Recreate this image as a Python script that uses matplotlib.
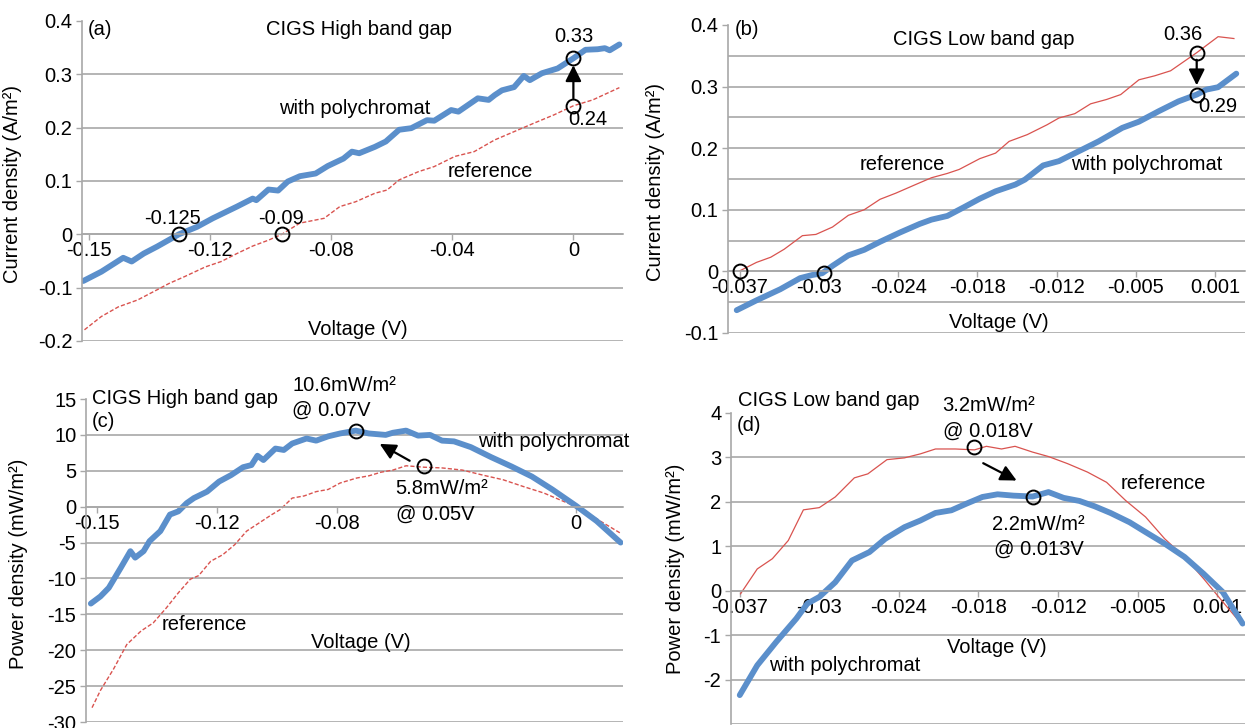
import matplotlib
matplotlib.use("Agg")
import matplotlib.pyplot as plt

plt.rcParams['font.family'] = ['Liberation Sans', 'DejaVu Sans']
plt.rcParams['font.size'] = 14.5

BLUE = '#5b8fcb'
RED = '#d9534f'
GRID = '#a8a8a8'
FS = 14.5

# x values are category positions (Excel category axis), 1 unit = one labelled tick
# ---- (a) current density, CIGS high band gap
a_ticks = ['-0.15', '-0.12', '-0.08', '-0.04', '0']
a_pol_x = [-0.05, 0.10, 0.28, 0.35, 0.45, 0.56, 0.74, 0.89, 1.02, 1.22, 1.35, 1.38, 1.48, 1.56,
           1.64, 1.74, 1.87, 1.97, 2.10, 2.17, 2.23, 2.36, 2.45, 2.56, 2.66, 2.79, 2.85, 2.99,
           3.05, 3.21, 3.30, 3.35, 3.41, 3.51, 3.59, 3.64, 3.74, 3.87, 4.00, 4.10, 4.20, 4.26,
           4.30, 4.38]
a_pol_y = [-0.0875, -0.07, -0.044, -0.051, -0.036, -0.023, 0.0, 0.014, 0.03, 0.052, 0.067, 0.064,
           0.084, 0.082, 0.099, 0.109, 0.114, 0.128, 0.142, 0.155, 0.152, 0.164, 0.174, 0.196,
           0.199, 0.214, 0.213, 0.233, 0.230, 0.255, 0.252, 0.261, 0.27, 0.276, 0.297, 0.289,
           0.302, 0.311, 0.33, 0.346, 0.347, 0.349, 0.345, 0.356]
a_ref_x = [-0.04, 0.10, 0.24, 0.40, 0.56, 0.66, 0.79, 0.96, 1.09, 1.22, 1.35, 1.48, 1.59, 1.74,
           1.94, 2.07, 2.20, 2.36, 2.46, 2.56, 2.72, 2.85, 3.02, 3.18, 3.35, 3.51, 3.67, 3.84,
           4.00, 4.16, 4.38]
a_ref_y = [-0.179, -0.154, -0.136, -0.123, -0.104, -0.092, -0.079, -0.061, -0.051, -0.036,
           -0.022, -0.011, 0.0, 0.021, 0.03, 0.052, 0.061, 0.077, 0.083, 0.102, 0.1175, 0.127,
           0.146, 0.155, 0.177, 0.1925, 0.208, 0.224, 0.241, 0.252, 0.275]
a_mark_x = [0.74, 1.59, 4.0, 4.0]
a_mark_y = [0.0, 0.0, 0.33, 0.24]

# ---- (b) current density, CIGS low band gap
b_ticks = ['-0.037', '-0.03', '-0.024', '-0.018', '-0.012', '-0.005', '0.001']
b_pol_x = [-0.04, 0.21, 0.51, 0.76, 0.91, 1.04, 1.17, 1.37, 1.57, 1.77, 2.02, 2.27, 2.42, 2.62,
           2.82, 3.03, 3.23, 3.48, 3.60, 3.83, 4.03, 4.28, 4.53, 4.83, 5.04, 5.29, 5.54, 5.77,
           5.89, 6.04, 6.27]
b_pol_y = [-0.063, -0.047, -0.029, -0.011, -0.006, -0.003, 0.009, 0.026, 0.035, 0.048, 0.063,
           0.077, 0.084, 0.090, 0.1035, 0.118, 0.130, 0.141, 0.149, 0.172, 0.179, 0.195, 0.211,
           0.233, 0.243, 0.260, 0.276, 0.287, 0.295, 0.299, 0.321]
b_ref_x = [0.0, 0.21, 0.39, 0.56, 0.79, 0.96, 1.17, 1.37, 1.57, 1.77, 1.97, 2.22, 2.42, 2.62,
           2.77, 3.03, 3.23, 3.40, 3.63, 3.88, 4.03, 4.23, 4.43, 4.63, 4.81, 5.04, 5.24, 5.44,
           5.77, 6.04, 6.24]
b_ref_y = [0.001, 0.0146, 0.023, 0.036, 0.058, 0.060, 0.072, 0.091, 0.10, 0.117, 0.127, 0.141,
           0.152, 0.159, 0.1655, 0.183, 0.192, 0.211, 0.222, 0.238, 0.249, 0.256, 0.272, 0.279,
           0.287, 0.311, 0.3175, 0.3256, 0.355, 0.381, 0.378]
b_mark_x = [0.0, 1.06, 5.77, 5.77]
b_mark_y = [0.0, -0.003, 0.355, 0.287]

# ---- (c) power density, CIGS high band gap
c_ticks = ['-0.15', '-0.12', '-0.08', '0']
c_tick_pos = [0, 1, 2, 4]
c_pol_x = [-0.05, 0.03, 0.10, 0.20, 0.28, 0.32, 0.39, 0.44, 0.53, 0.61, 0.68, 0.75, 0.81, 0.92,
           1.02, 1.12, 1.22, 1.29, 1.34, 1.39, 1.49, 1.56, 1.63, 1.75, 1.83, 1.93, 2.03, 2.16,
           2.27, 2.41, 2.47, 2.58, 2.68, 2.78, 2.88, 2.98, 3.12, 3.29, 3.46, 3.63, 3.80, 4.00,
           4.17, 4.37]
c_pol_y = [-13.5, -12.5, -11.3, -8.5, -6.2, -7.1, -6.2, -4.8, -3.4, -1.1, -0.65, 0.5, 1.2, 2.1,
           3.5, 4.4, 5.5, 5.8, 7.1, 6.5, 8.1, 7.9, 8.8, 9.5, 9.2, 9.8, 10.2, 10.6, 10.2, 10.0,
           10.3, 10.6, 9.9, 10.0, 9.2, 9.1, 8.3, 6.9, 5.6, 4.2, 2.4, 0.1, -2.0, -5.0]
c_ref_x = [-0.04, 0.03, 0.14, 0.25, 0.37, 0.47, 0.58, 0.68, 0.78, 0.85, 0.95, 1.05, 1.15, 1.25,
           1.36, 1.46, 1.53, 1.63, 1.73, 1.83, 1.93, 2.03, 2.17, 2.27, 2.37, 2.47, 2.58, 2.73,
           2.88, 3.05, 3.22, 3.39, 3.56, 3.73, 3.90, 4.03, 4.20, 4.37]
c_ref_y = [-28.0, -25.6, -22.6, -19.2, -17.3, -16.2, -14.1, -12.0, -10.1, -9.6, -7.6, -6.7,
           -5.3, -3.4, -2.2, -1.1, -0.4, 1.2, 1.5, 2.1, 2.4, 3.3, 4.0, 4.3, 4.8, 5.1, 5.7, 5.5,
           5.4, 5.1, 4.4, 3.75, 2.8, 1.9, 0.7, -0.2, -2.0, -3.7]
c_mark_x = [2.16, 2.73]
c_mark_y = [10.6, 5.6]

# ---- (d) power density, CIGS low band gap
d_ticks = ['-0.037', '-0.03', '-0.024', '-0.018', '-0.012', '-0.005', '0.001']
d_pol_x = [0.0, 0.22, 0.46, 0.71, 0.85, 1.0, 1.20, 1.41, 1.63, 1.83, 2.07, 2.27, 2.46, 2.66,
           2.85, 3.05, 3.24, 3.44, 3.68, 3.88, 4.07, 4.27, 4.46, 4.66, 4.90, 5.10, 5.34, 5.59,
           5.83, 6.07, 6.32]
d_pol_y = [-2.35, -1.68, -1.15, -0.63, -0.29, -0.14, 0.19, 0.68, 0.87, 1.17, 1.43, 1.58, 1.75,
           1.81, 1.96, 2.11, 2.17, 2.14, 2.12, 2.22, 2.09, 2.02, 1.90, 1.75, 1.54, 1.32, 1.06,
           0.76, 0.38, -0.03, -0.74]
d_ref_x = [0.01, 0.22, 0.41, 0.61, 0.80, 1.0, 1.20, 1.44, 1.61, 1.85, 2.07, 2.27, 2.46, 2.71,
           2.95, 3.10, 3.29, 3.46, 3.68, 3.88, 4.12, 4.37, 4.61, 4.85, 5.10, 5.34, 5.59, 5.83,
           6.07, 6.32]
d_ref_y = [-0.07, 0.49, 0.72, 1.13, 1.82, 1.87, 2.11, 2.54, 2.63, 2.95, 2.99, 3.08, 3.19, 3.19,
           3.17, 3.25, 3.19, 3.25, 3.12, 3.02, 2.86, 2.67, 2.44, 2.03, 1.66, 1.17, 0.76, 0.27,
           -0.25, -0.78]
d_mark_x = [2.94, 3.68]
d_mark_y = [3.23, 2.11]

fig = plt.figure(figsize=(12.47, 7.28), dpi=100)
ax_a = fig.add_axes([0.0658, 0.5316, 0.4338, 0.4396])
ax_b = fig.add_axes([0.5838, 0.5426, 0.4146, 0.4231])
ax_c = fig.add_axes([0.0690, 0.0082, 0.4306, 0.4437])
ax_d = fig.add_axes([0.5862, 0.0055, 0.4122, 0.4272])


def style(ax, xlim, ylim, yticks, ylabels, grid, xpos, xlabels, ylab, lab_xy):
    ax.set_xlim(*xlim)
    ax.set_ylim(*ylim)
    for g in grid:
        ax.axhline(g, color=GRID, lw=1.2, zorder=0)
    for s in ['top', 'right']:
        ax.spines[s].set_visible(False)
    ax.spines['left'].set_color(GRID)
    ax.spines['left'].set_linewidth(1.2)
    ax.spines['bottom'].set_position(('data', 0))
    ax.spines['bottom'].set_color(GRID)
    ax.spines['bottom'].set_linewidth(1.2)
    ax.set_yticks(yticks)
    ax.set_yticklabels(ylabels)
    ax.set_xticks(xpos)
    ax.set_xticklabels(xlabels)
    ax.tick_params(axis='both', colors=GRID, labelcolor='black', labelsize=FS, length=4, width=1)
    ax.tick_params(axis='x', pad=1)
    ax.tick_params(axis='y', pad=3)
    ax.set_ylabel(ylab, fontsize=FS)
    ax.yaxis.set_label_coords(*lab_xy)
    ax.patch.set_alpha(0)


def arrow(ax, start, end):
    ax.annotate('', xy=end, xytext=start,
                arrowprops=dict(arrowstyle='-|>', color='black', lw=1.6,
                                mutation_scale=24, shrinkA=0, shrinkB=0))


def circles(ax, x, y):
    ax.plot(x, y, 'o', mfc='none', mec='black', ms=10, mew=1.4, zorder=5)


# (a)
style(ax_a, (-0.06, 4.41), (-0.2, 0.4), [-0.2, -0.1, 0, 0.1, 0.2, 0.3, 0.4],
      ['-0.2', '-0.1', '0', '0.1', '0.2', '0.3', '0.4'],
      [-0.2, -0.1, 0, 0.1, 0.2, 0.3], range(len(a_ticks)), a_ticks,
      'Current density (A/m²)', (-0.111, 0.49))
ax_a.plot(a_ref_x, a_ref_y, color=RED, lw=1.0, ls=(0, (3, 1.5)))
ax_a.plot(a_pol_x, a_pol_y, color=BLUE, lw=4.2, solid_joinstyle='round', solid_capstyle='round')
circles(ax_a, a_mark_x, a_mark_y)
arrow(ax_a, (4.0, 0.255), (4.0, 0.317))
ax_a.text(0.011, 0.972, '(a)', transform=ax_a.transAxes, ha='left', va='center')
ax_a.text(2.23, 0.384, 'CIGS High band gap', ha='center', va='center')
ax_a.text(2.19, 0.236, 'with polychromat', ha='center', va='center')
ax_a.text(3.31, 0.1175, 'reference', ha='center', va='center')
ax_a.text(2.22, -0.179, 'Voltage (V)', ha='center', va='center')
ax_a.text(0.69, 0.03, '-0.125', ha='center', va='center')
ax_a.text(1.58, 0.03, '-0.09', ha='center', va='center')
ax_a.text(4.0, 0.37, '0.33', ha='center', va='center')
ax_a.text(4.12, 0.2155, '0.24', ha='center', va='center')

# (b)
style(ax_b, (-0.15, 6.38), (-0.1, 0.4), [-0.1, 0, 0.1, 0.2, 0.3, 0.4],
      ['-0.1', '0', '0.1', '0.2', '0.3', '0.4'],
      [-0.1, -0.05, 0, 0.05, 0.1, 0.15, 0.2, 0.25, 0.3, 0.35], range(len(b_ticks)), b_ticks,
      'Current density (A/m²)', (-0.122, 0.49))
ax_b.plot(b_ref_x, b_ref_y, color=RED, lw=0.9)
ax_b.plot(b_pol_x, b_pol_y, color=BLUE, lw=4.2, solid_joinstyle='round', solid_capstyle='round')
circles(ax_b, b_mark_x, b_mark_y)
arrow(ax_b, (5.77, 0.3435), (5.77, 0.302))
ax_b.text(-0.065, 0.393, '(b)', ha='left', va='center')
ax_b.text(3.08, 0.377, 'CIGS Low band gap', ha='center', va='center')
ax_b.text(5.6, 0.385, '0.36', ha='center', va='center')
ax_b.text(6.04, 0.267, '0.29', ha='center', va='center')
ax_b.text(2.05, 0.1736, 'reference', ha='center', va='center')
ax_b.text(5.14, 0.1736, 'with polychromat', ha='center', va='center')
ax_b.text(3.27, -0.0825, 'Voltage (V)', ha='center', va='center')

# (c)
style(ax_c, (-0.09, 4.39), (-30, 15), list(range(-30, 16, 5)),
      [str(v) for v in range(-30, 16, 5)],
      list(range(-30, 11, 5)), c_tick_pos, c_ticks,
      'Power density (mW/m²)', (-0.108, 0.49))
ax_c.plot(c_ref_x, c_ref_y, color=RED, lw=1.0, ls=(0, (3, 1.5)))
ax_c.plot(c_pol_x, c_pol_y, color=BLUE, lw=4.2, solid_joinstyle='round', solid_capstyle='round')
circles(ax_c, c_mark_x, c_mark_y)
arrow(ax_c, (2.61, 6.4), (2.36, 8.75))
ax_c.text(-0.04, 15.1, 'CIGS High band gap', ha='left', va='center')
ax_c.text(-0.04, 11.85, '(c)', ha='left', va='center')
ax_c.text(1.63, 16.9, '10.6mW/m²', ha='left', va='center')
ax_c.text(1.63, 13.5, '@ 0.07V', ha='left', va='center')
ax_c.text(2.49, 2.6, '5.8mW/m²', ha='left', va='center')
ax_c.text(2.50, -1.0, '@ 0.05V', ha='left', va='center')
ax_c.text(3.81, 9.07, 'with polychromat', ha='center', va='center')
ax_c.text(0.90, -16.4, 'reference', ha='center', va='center')
ax_c.text(2.20, -18.9, 'Voltage (V)', ha='center', va='center')

# (d)
style(ax_d, (-0.11, 6.35), (-3, 4), list(range(-2, 5)),
      [str(v) for v in range(-2, 5)],
      list(range(-3, 4)), range(len(d_ticks)), d_ticks,
      'Power density (mW/m²)', (-0.0895, 0.50))
ax_d.plot(d_ref_x, d_ref_y, color=RED, lw=0.9)
ax_d.plot(d_pol_x, d_pol_y, color=BLUE, lw=4.2, solid_joinstyle='round', solid_capstyle='round')
circles(ax_d, d_mark_x, d_mark_y)
arrow(ax_d, (3.06, 2.87), (3.48, 2.48))
ax_d.text(-0.02, 4.28, 'CIGS Low band gap', ha='left', va='center')
ax_d.text(-0.04, 3.72, '(d)', ha='left', va='center')
ax_d.text(2.54, 4.17, '3.2mW/m²', ha='left', va='center')
ax_d.text(2.56, 3.6, '@ 0.018V', ha='left', va='center')
ax_d.text(3.17, 1.49, '2.2mW/m²', ha='left', va='center')
ax_d.text(3.19, 0.93, '@ 0.013V', ha='left', va='center')
ax_d.text(5.32, 2.41, 'reference', ha='center', va='center')
ax_d.text(1.32, -1.69, 'with polychromat', ha='center', va='center')
ax_d.text(3.23, -1.28, 'Voltage (V)', ha='center', va='center')

fig.savefig('out.png', dpi=100)
